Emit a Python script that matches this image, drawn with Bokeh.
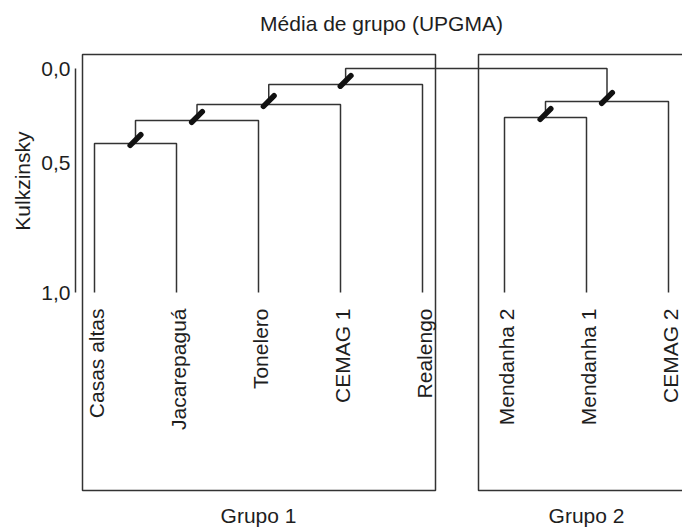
from math import pi

from bokeh.core.properties import value
from bokeh.embed import file_html
from bokeh.models import ColumnDataSource, FixedTicker, LinearAxis, Range1d, Title
from bokeh.plotting import figure
from bokeh.resources import INLINE

# --- data -----------------------------------------------------------------
leaves = ["Casas altas", "Jacarepaguá", "Tonelero", "CEMAG 1", "Realengo",
          "Mendanha 2", "Mendanha 1", "CEMAG 2"]

# UPGMA merges: (left child, right child, Kulkzinsky level); ids 0..7 are
# leaves, each merge gets the next id (8, 9, ...)
merge_left = [0, 8, 9, 10, 5, 12, 11]
merge_right = [1, 2, 3, 4, 6, 7, 13]
merge_level = [0.335, 0.232, 0.161, 0.071, 0.219, 0.147, 0.0]
leaf_level = 1.0

group_names = ["Grupo 1", "Grupo 2"]
group_members = [[0, 1, 2, 3, 4], [5, 6, 7]]

y_ticks = [0.0, 0.42, 1.0]
y_tick_labels = ["0,0", "0,5", "1,0"]

title_text = "Média de grupo (UPGMA)"
y_label = "Kulkzinsky"

# --- styling ----------------------------------------------------------------
FONT = "Liberation Sans"
FS = "21px"
INK = "#1e1e1e"
LINE = "#333333"
PX_X = 82.0    # pixels per leaf step
PX_Y = 224.0   # pixels per unit on the Kulkzinsky axis

# --- dendrogram geometry ------------------------------------------------------
node_x = {i: float(i) for i in range(len(leaves))}
node_y = {i: leaf_level for i in range(len(leaves))}
paths_x, paths_y = [], []
for k, (a, b, h) in enumerate(zip(merge_left, merge_right, merge_level)):
    nid = len(leaves) + k
    xa, xb = node_x[a], node_x[b]
    paths_x.append([xa, xa, xb, xb])
    paths_y.append([node_y[a], h, h, node_y[b]])
    node_x[nid] = (xa + xb) / 2.0
    node_y[nid] = h

root_id = len(leaves) + len(merge_level) - 1
slash_ids = [i for i in range(len(leaves), root_id)]
slash_lift = 3.5 / PX_Y
slash_src = ColumnDataSource(dict(
    x=[node_x[i] for i in slash_ids],
    y=[node_y[i] - slash_lift for i in slash_ids],
))

p = figure(
    width=682, height=529,
    x_range=Range1d(-19 / PX_X, 588 / PX_X),
    y_range=Range1d((529 - 68) / PX_Y, -68 / PX_Y),
    output_backend="svg", toolbar_location=None,
    x_axis_location=None, y_axis_location=None,
    min_border_left=75, min_border_right=0, min_border_top=0, min_border_bottom=0,
    outline_line_color=None, background_fill_color="white",
    border_fill_color="white",
)
p.grid.visible = False

# y axis limited to the 0..1 span
yax = LinearAxis(
    bounds=(0, 1),
    ticker=FixedTicker(ticks=y_ticks),
    major_label_overrides={t: s for t, s in zip(y_ticks, y_tick_labels)},
    axis_line_color=LINE, axis_line_width=1.5,
    major_tick_line_color=None, minor_tick_line_color=None,
    major_tick_out=0, major_tick_in=0,
    major_label_standoff=5,
    major_label_text_font=FONT, major_label_text_font_size=FS,
    major_label_text_color=INK,
)
p.add_layout(yax, "left")

# axis name, set beside the 0..1 span rather than the whole frame
p.add_layout(Title(
    text=y_label, align="right", offset=131, vertical_align="middle",
    standoff=8, text_font=FONT, text_font_size=FS,
    text_font_style="normal", text_color=INK,
), "left")

# group frames
box_top = -14 / PX_Y
box_bottom = 422 / PX_Y
p.quad(
    left=[group_members[0][0] - 12 / PX_X, group_members[1][0] - 26 / PX_X],
    right=[group_members[0][-1] + 13 / PX_X, group_members[1][-1] + 1.0],
    top=[box_top, box_top], bottom=[box_bottom, box_bottom],
    fill_color=None, line_color=LINE, line_width=1.5,
)

# dendrogram links
p.multi_line(xs=paths_x, ys=paths_y, line_color=LINE, line_width=1.5)

# slash marks on the inner nodes
p.scatter("x", "y", source=slash_src, marker="dash", size=15, angle=pi / 4,
          line_color="#111111", line_width=5.5, line_cap="round")

# leaf labels
label_gap = 16 / PX_Y
p.text(
    x=[i + 2 / PX_X for i in range(len(leaves))],
    y=[leaf_level + label_gap] * len(leaves),
    text=leaves, angle=pi / 2, text_align="right", text_baseline="middle",
    text_font=value(FONT), text_font_size=value(FS), text_color=INK,
)

# group captions
p.text(
    x=[sum(m) / len(m) for m in group_members],
    y=[(515 - 68) / PX_Y] * len(group_members),
    text=group_names, text_align="center", text_baseline="middle",
    text_font=value(FONT), text_font_size=value(FS), text_color=INK,
)

# title centred over the leaves
p.text(
    x=[(len(leaves) - 1) / 2.0], y=[(23 - 68) / PX_Y], text=[title_text],
    text_align="center", text_baseline="middle",
    text_font=value(FONT), text_font_size=value(FS), text_color=INK,
)

open("out.html", "w").write(file_html(p, INLINE))
